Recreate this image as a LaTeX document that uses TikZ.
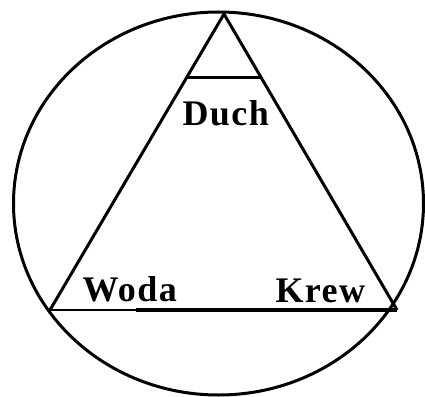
\documentclass[tikz,border=0pt]{standalone}
\usepackage{fontspec}
\setmainfont{Liberation Serif}
\usetikzlibrary{calc}

\begin{document}
\begin{tikzpicture}[x=1pt, y=-1pt, line width=3pt,
    word/.style={font={\bfseries\fontsize{36}{40}\selectfont\addfontfeatures{LetterSpace=4}},
                 inner sep=0pt, anchor=base west}]
    \useasboundingbox (0,0) rectangle (425,396);
    % Circle
    \draw (218.5,203.5) ellipse [x radius=205, y radius=191.5];
    % Triangle
    \coordinate (apex) at (224,14);
    \coordinate (left) at (50,310);
    \coordinate (right) at (397,310);
    \coordinate (mid) at (136,310);
    \draw (left) -- (apex) -- (right);
    \draw[line width=2.4pt] (left) -- (mid);
    \draw[line width=3.8pt] (mid) -- (right);
    % Top cut
    \coordinate (cutl) at ($(apex)!0.215!(left)$);
    \coordinate (cutr) at ($(apex)!0.215!(right)$);
    \draw (cutl) -- (cutr);
    % Labels
    \node[word] (duch) at (181,125) {Duch};
    \node[word] (woda) at (81,301) {Woda};
    \node[word] (krew) at (274,302) {Krew};
\end{tikzpicture}
\end{document}
